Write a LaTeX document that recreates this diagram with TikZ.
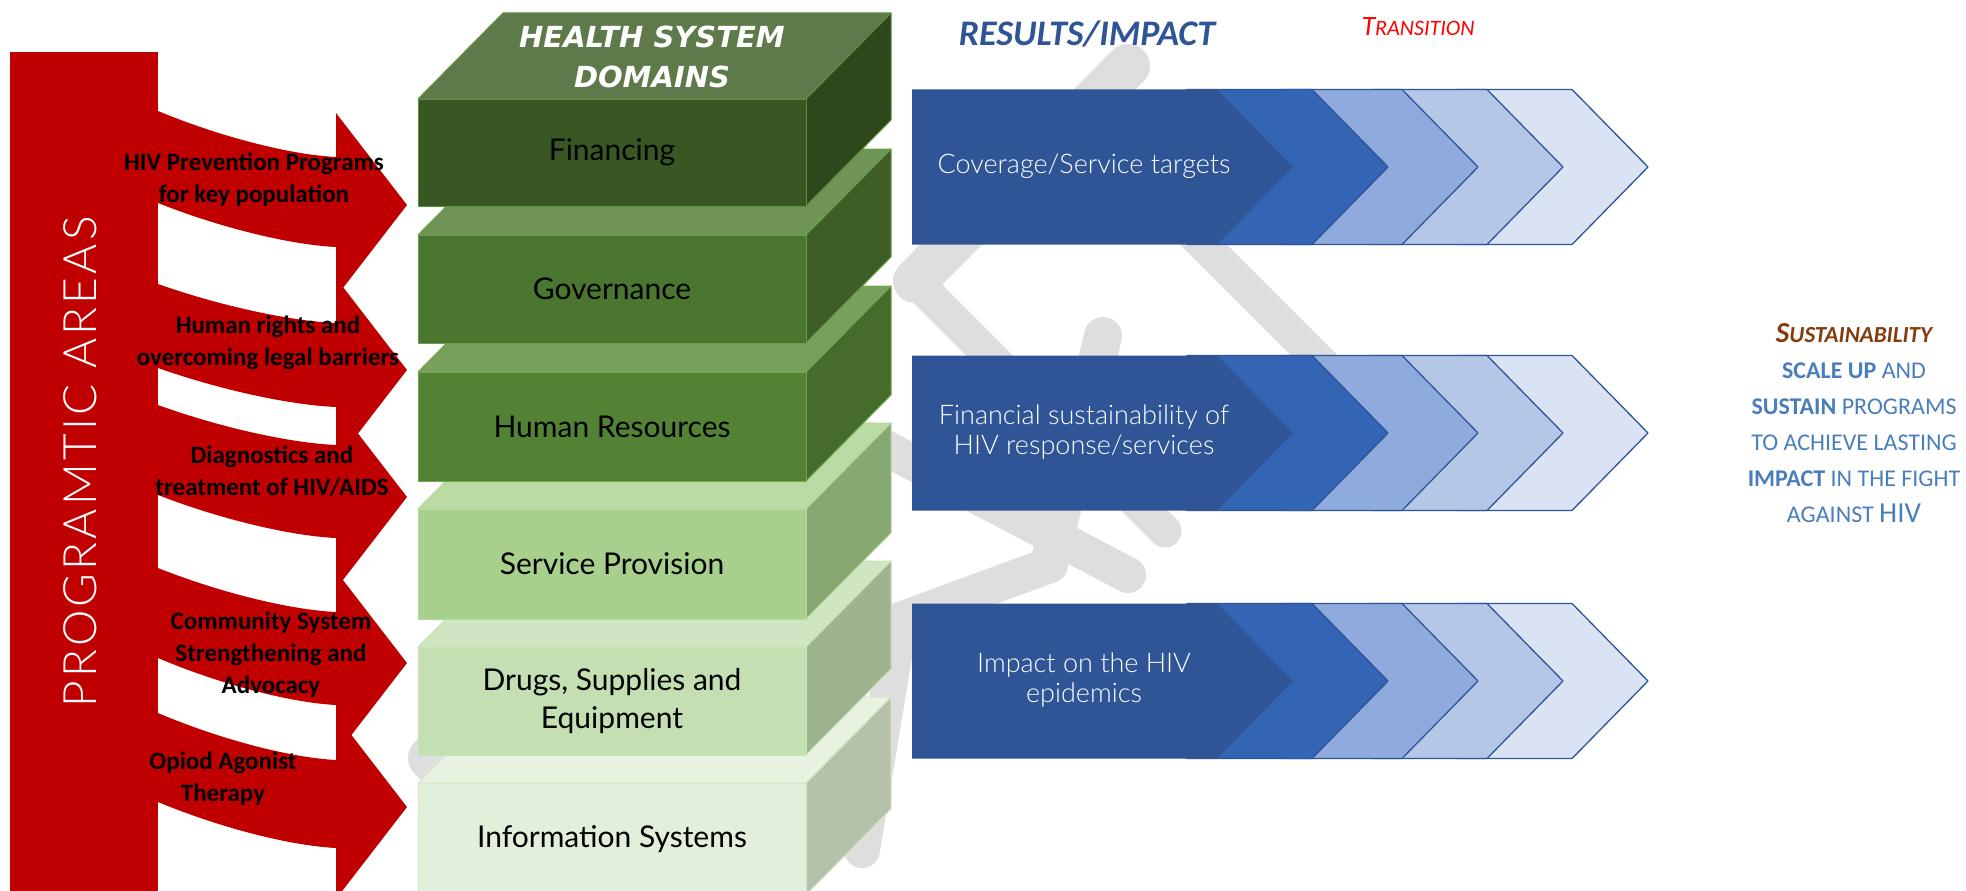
\documentclass[tikz,border=0pt]{standalone}
\usepackage{fontspec}
\setmainfont{Lato}
\newfontfamily\carl{Carlito}
\newfontfamily\djv{DejaVu Sans}
\IfFontExistsTF{Lato Light}{\newfontfamily\latol{Lato Light}}{\newfontfamily\latol{Lato}}
\definecolor{progred}{HTML}{C00000}
\definecolor{wm}{HTML}{DEDEDE}
\definecolor{ch1}{HTML}{2F5597}
\definecolor{ch2}{HTML}{3464B4}
\definecolor{ch3}{HTML}{8FAADC}
\definecolor{ch4}{HTML}{B4C7E7}
\definecolor{ch5}{HTML}{DAE3F3}
\definecolor{sustblue}{HTML}{4A7EBB}
\definecolor{sustbrown}{HTML}{843C0C}
% greens
\definecolor{finF}{HTML}{385723}\definecolor{finT}{HTML}{5E7A4A}\definecolor{finS}{HTML}{2E481C}\definecolor{finB}{HTML}{5E8F3E}
\definecolor{govF}{HTML}{4B7630}\definecolor{govT}{HTML}{6E9458}\definecolor{govS}{HTML}{3D5F27}\definecolor{govB}{HTML}{6A9F48}
\definecolor{hrF}{HTML}{548235}\definecolor{hrT}{HTML}{77A05C}\definecolor{hrS}{HTML}{466C2C}\definecolor{hrB}{HTML}{70A84C}
\definecolor{spF}{HTML}{A8D08D}\definecolor{spT}{HTML}{BBDBA4}\definecolor{spS}{HTML}{87A870}\definecolor{spB}{HTML}{B5D99C}
\definecolor{drF}{HTML}{C4DFB2}\definecolor{drT}{HTML}{D0E5C1}\definecolor{drS}{HTML}{9DB48E}\definecolor{drB}{HTML}{C9E3B8}
\definecolor{inF}{HTML}{E2EFDA}\definecolor{inT}{HTML}{E8F2E0}\definecolor{inS}{HTML}{B4C2AA}\definecolor{inB}{HTML}{D5EAC8}

\tikzset{
  alabel/.style={font=\carl\bfseries\fontsize{25}{32}\selectfont, align=center, inner sep=0pt, text=black},
  gfront/.style={rectangle, minimum width=388, inner sep=0pt, align=center, line width=1,
                 font=\fontsize{30}{38}\selectfont, text=black},
  rlabel/.style={font=\latol\fontsize{27}{30}\selectfont, align=center, inner sep=0pt, text=white},
  sline/.style={font=\carl\fontsize{24}{24}\selectfont, text=sustblue, inner sep=0pt, anchor=base},
}

% green 3D box: name, top y, height, front, top face, side, border, label
\newcommand\gbox[8]{%
  \fill[#5, draw=#7, line width=1] (418,#2) -- (503,#2-86) -- (891,#2-86) -- (806,#2) -- cycle;
  \fill[#6, draw=#7, line width=1] (806,#2) -- (891,#2-86) -- (891,#2+#3-86) -- (806,#2+#3) -- cycle;
  \node[gfront, fill=#4, draw=#7, minimum height=#3] (#1) at (612,#2+#3/2) {#8};
}

% chevron row: center y, name, label
\newcommand\chevrow[3]{%
  \pgfmathsetmacro\rt{#1-77.5}%
  \pgfmathsetmacro\rb{#1+77.5}%
  \foreach \l/\r/\c in {1457/1572/ch5, 1372/1487/ch4, 1282/1402/ch3, 1187/1312/ch2}{%
    \filldraw[fill=\c, draw=ch1, line width=1.3]
      (\l,\rt) -- (\r,\rt) -- (\r+76,#1) -- (\r,\rb) -- (\l,\rb) -- (\l+76,#1) -- cycle;
  }
  \fill[ch1] (912,\rt) -- (1217,\rt) -- (1293,#1) -- (1217,\rb) -- (912,\rb) -- cycle;
  \node[rlabel] (#2) at (1084,#1-1) {#3};
}

\begin{document}
\begin{tikzpicture}[x=1pt,y=-1pt,line join=round]
\useasboundingbox (0,0) rectangle (1966,891);

% ---------- grey watermark ----------
\begin{scope}[draw=wm, line cap=round, line join=round]
  \draw[line width=44] (1128,66) -- (915,281);
  \draw[line width=33] (915,281) -- (1165,531);
  \draw[line width=33] (1077,118) -- (1390,431);
  \draw[line width=36] (870,440) -- (1128,575);
  \draw[line width=38] (1103,336) -- (1050,560);
  \draw[line width=36] (1050,565) -- (900,620) -- (862,850);
  \draw[line width=44] (780,414) -- (430,758) -- (600,925);
\end{scope}

% ---------- red programmatic areas ----------
\fill[progred] (10,52) rectangle (158,895);
\foreach \yA/\yB/\sA/\sB/\t in {111/203/157/247/205, 284/368/323/407/370, 405/495/445/538/497,
                                568/658/612/705/663, 713/802/760/848/807}{%
  \fill[progred] (150,\yA) -- (158,\yA)
     .. controls (220,{\yA+0.56*(\sA-\yA)}) and (290,{\yA+0.95*(\sA-\yA)}) .. (336,\sA)
     -- (336,\t-92) -- (407,\t) -- (336,\t+92) -- (336,\sB)
     .. controls (290,{\yB+0.95*(\sB-\yB)}) and (220,{\yB+0.56*(\sB-\yB)}) .. (158,\yB)
     -- (150,\yB) -- cycle;
}
\node[rotate=90, text=white, inner sep=0pt, font=\latol\fontsize{46}{46}\selectfont\addfontfeature{LetterSpace=7}] (pa) at (80,462) {PROGRAMTIC AREAS};
\node[alabel] (pa1) at (254,180) {HIV Prevention Programs\\for key population};
\node[alabel] (pa2) at (268,343) {Human rights and\\overcoming legal barriers};
\node[alabel] (pa3) at (272,471) {Diagnostics and\\treatment of HIV/AIDS};
\node[alabel] (pa4) at (271,655) {Community System\\Strengthening and\\Advocacy};
\node[alabel] (pa5) at (223,779) {Opiod Agonist\\Therapy};

% ---------- green health system domains ----------
\gbox{info}{783}{112}{inF}{inT}{inS}{inB}{Information Systems}
\gbox{drugs}{647}{108}{drF}{drT}{drS}{drB}{Drugs, Supplies and\\Equipment}
\gbox{serv}{509}{110}{spF}{spT}{spS}{spB}{Service Provision}
\gbox{hr}{372}{109}{hrF}{hrT}{hrS}{hrB}{Human Resources}
\gbox{gov}{235}{108}{govF}{govT}{govS}{govB}{Governance}
\gbox{fin}{99}{107}{finF}{finT}{finS}{finB}{Financing}
\node[font=\djv\bfseries\itshape\fontsize{29}{40}\selectfont, text=white, align=center, inner sep=0pt] (hsd) at (652,57) {HEALTH SYSTEM\\DOMAINS};

% ---------- blue results rows ----------
\chevrow{167}{r1}{Coverage/Service targets}
\chevrow{433}{r2}{Financial sustainability of\\HIV response/services}
\chevrow{681}{r3}{Impact on the HIV\\epidemics}

% ---------- headings ----------
\node[font=\carl\bfseries\itshape\fontsize{36}{36}\selectfont, text=ch1, inner sep=0pt] (res) at (1087,34) {RESULTS/IMPACT};
\node[font=\carl\itshape, text=red, inner sep=0pt, anchor=base] (trans) at (1418,36)
  {{\fontsize{28}{28}\selectfont T}{\fontsize{22}{22}\selectfont RANSITION}};

% ---------- sustainability text ----------
\node[font=\carl\bfseries\itshape, text=sustbrown, inner sep=0pt, anchor=base] (s0) at (1854,342)
  {{\fontsize{29}{29}\selectfont S}{\fontsize{23}{23}\selectfont USTAINABILITY}};
\node[sline] (s1) at (1854,378) {\textbf{SCALE UP} AND};
\node[sline] (s2) at (1854,414) {\textbf{SUSTAIN} PROGRAMS};
\node[sline] (s3) at (1854,450) {TO ACHIEVE LASTING};
\node[sline] (s4) at (1854,486) {\textbf{IMPACT} IN THE FIGHT};
\node[sline] (s5) at (1854,522) {AGAINST {\fontsize{29}{29}\selectfont HIV}};
\end{tikzpicture}
\end{document}
